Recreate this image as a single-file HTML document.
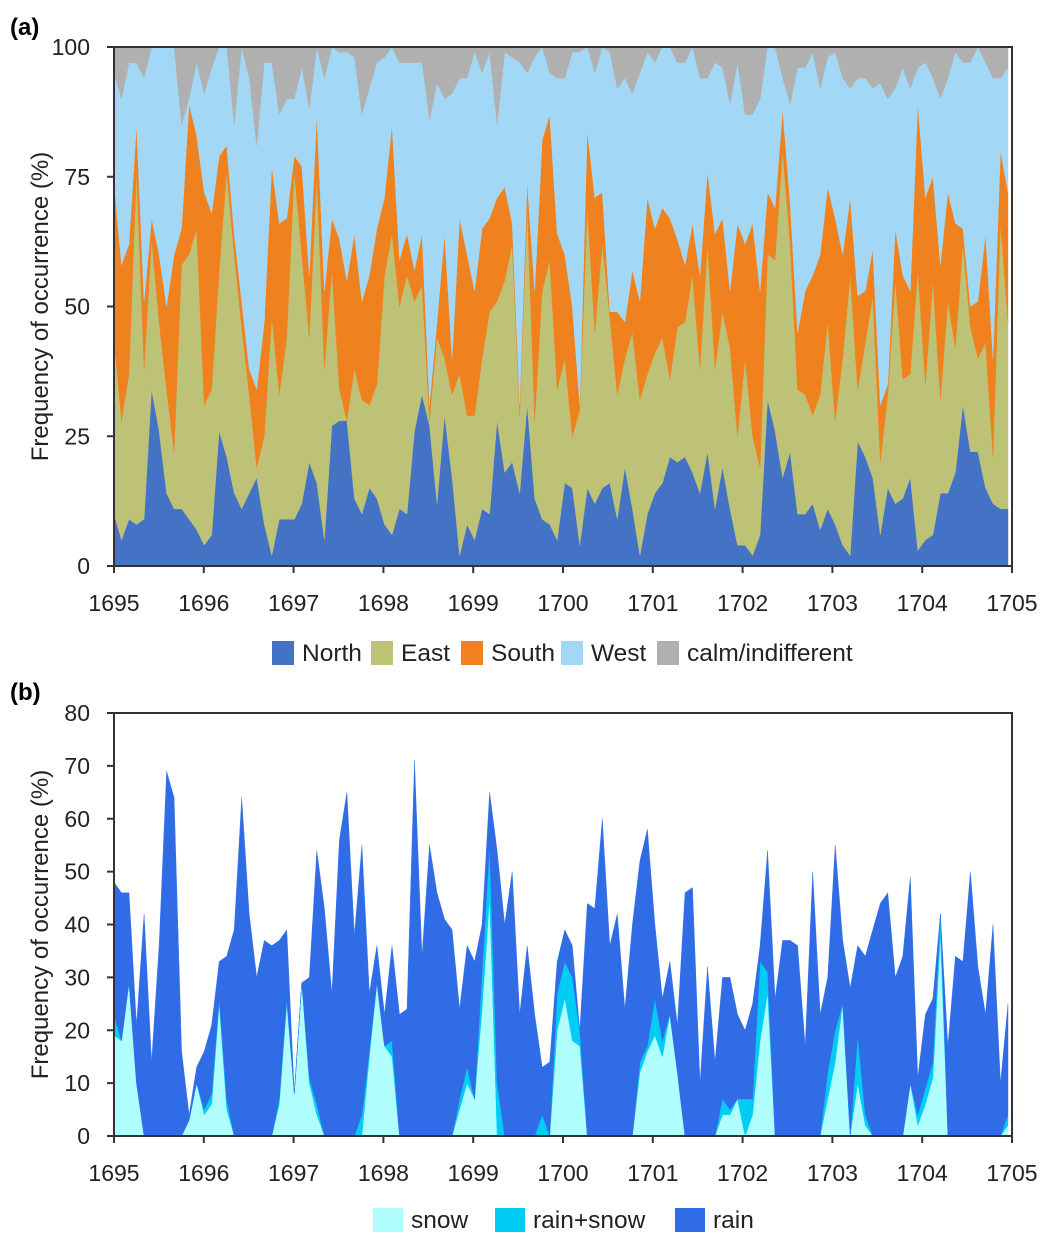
<!DOCTYPE html>
<html><head><meta charset="utf-8"><style>
html,body{margin:0;padding:0;background:#fff;}
svg{display:block;font-family:"Liberation Sans",Arial,sans-serif;}
</style></head><body>
<svg id="chart" width="1054" height="1248" viewBox="0 0 1054 1248" xmlns="http://www.w3.org/2000/svg">
<text x="10" y="35" font-size="24" font-weight="bold">(a)</text>
<text x="10" y="700" font-size="24" font-weight="bold">(b)</text>
<g id="pa"></g>
<g id="pb"></g>
</svg>
<script>
const years=[1695,1696,1697,1698,1699,1700,1701,1702,1703,1704,1705];
const windTicks=[0,25,50,75,100];
const precipTicks=[0,10,20,30,40,50,60,70,80];
const north=[10,5,9,8,9,34,26,14,11,11,9,7,4,6,26,21,14,11,14,17,8,2,9,9,9,12,20,16,5,27,28,28,13,10,15,13,8,6,11,10,26,33,27,12,29,17,2,8,5,11,10,28,18,20,14,31,13,9,8,5,16,15,4,15,12,15,16,9,19,11,2,10,14,16,21,20,21,18,14,22,11,19,11,4,4,2,6,32,26,17,22,10,10,12,7,11,8,4,2,24,21,17,6,15,12,13,17,3,5,6,14,14,18,31,22,22,15,12,11,11];
const east=[34,23,28,68,29,29,21,20,11,47,51,58,27,28,31,55,46,35,19,2,17,46,24,35,67,48,24,59,33,30,6,0,25,22,16,22,48,58,39,46,25,21,1,32,11,16,35,21,24,29,39,23,37,42,15,38,15,44,51,29,24,10,26,54,33,47,32,24,21,34,30,27,27,28,15,26,26,38,24,40,27,30,31,21,36,23,13,28,33,63,40,24,23,17,26,36,20,36,54,10,22,35,14,18,43,23,20,54,30,49,18,37,24,31,24,18,28,9,55,36];
const south=[30,30,25,9,13,4,13,16,38,7,29,18,41,34,22,5,4,5,5,15,22,29,33,23,3,17,12,12,15,10,29,27,26,19,25,30,15,21,9,8,6,10,3,3,24,7,30,31,24,25,18,20,18,4,2,5,25,29,28,30,20,25,1,15,26,10,1,16,7,12,19,34,24,25,31,17,11,10,18,14,26,18,11,41,22,41,34,12,10,8,8,11,20,27,27,26,39,20,15,18,10,9,11,2,10,20,16,32,36,20,26,21,24,3,4,11,21,19,14,25];
const west=[21,32,35,12,43,33,40,50,40,20,1,14,19,28,21,19,21,49,56,47,50,20,21,23,11,19,32,13,41,33,36,44,34,36,36,32,27,15,38,33,40,33,55,46,26,51,27,34,46,30,32,14,26,32,66,21,45,18,8,30,34,49,68,16,24,28,50,43,47,34,44,28,32,31,33,34,39,34,38,18,33,29,36,31,25,21,37,28,31,6,19,51,43,43,32,25,32,34,21,42,41,31,62,55,27,40,39,7,26,19,32,22,33,32,47,49,33,54,14,24];
const calm=[5,10,3,3,6,0,0,0,0,15,10,3,9,4,0,0,15,0,6,19,3,3,13,10,10,4,12,0,6,0,1,1,2,13,8,3,2,0,3,3,3,3,14,7,10,9,6,6,1,5,1,15,1,2,3,5,2,0,5,6,6,1,1,0,5,0,1,8,6,9,5,1,3,0,0,3,3,0,6,6,3,4,11,3,13,13,10,0,0,6,11,4,4,1,8,2,1,6,8,6,6,8,7,10,8,4,8,4,3,6,10,6,1,3,3,0,3,6,6,4];
const snow=[19,18,29,10,0,0,0,0,0,0,3,10,4,6,25,5,0,0,0,0,0,0,6,25,8,29,10,4,0,0,0,0,0,0,15,29,17,15,0,0,0,0,0,0,0,0,5,10,7,24,45,0,0,0,0,0,0,0,0,20,26,18,17,0,0,0,0,0,0,0,12,16,19,15,23,12,0,0,0,0,0,4,4,7,0,4,18,27,0,0,0,0,0,0,0,7,14,25,0,10,2,0,0,0,0,0,10,2,6,11,38,0,0,0,0,0,0,0,0,2];
const rainSnow=[4,0,0,0,0,0,0,0,0,0,0,0,1,2,1,2,0,0,0,0,0,0,1,1,0,0,1,2,0,0,0,0,0,4,1,0,0,3,0,0,0,0,0,0,0,0,2,3,0,7,10,10,0,0,0,0,0,4,0,7,7,12,3,0,0,0,0,0,0,0,2,1,7,3,0,0,0,0,0,0,0,3,1,0,7,3,15,4,0,0,0,0,0,0,0,5,6,0,0,9,2,0,0,0,0,0,0,2,3,3,4,0,0,0,0,0,0,0,0,2];
const rain=[25,28,17,11,42,14,36,69,64,16,1,3,11,13,7,27,39,64,42,30,37,36,30,13,0,0,19,48,43,27,56,65,38,51,11,7,6,18,23,24,71,34,55,46,41,39,17,23,26,9,10,44,40,50,23,36,23,9,14,6,6,6,0,44,43,60,36,42,24,40,38,41,14,8,10,9,46,47,10,32,14,23,25,16,13,18,3,23,26,37,37,36,17,50,23,18,35,12,28,17,30,39,44,46,30,34,39,7,14,12,0,17,34,33,50,32,23,40,10,21];

const NS="http://www.w3.org/2000/svg";
const X0=114,X1=1012;
function xYear(y){return X0+(y-1695)*(X1-X0)/10;}
function xIdx(i,n){return X0+i*(1008-X0)/(n-1);}
function mk(tag,attrs,parent){const e=document.createElementNS(NS,tag);for(const k in attrs)e.setAttribute(k,attrs[k]);parent.appendChild(e);return e;}

function drawPanel(g,opt){
  const yS=v=>opt.yBot-(v-opt.yMin)*(opt.yBot-opt.yTop)/(opt.yMax-opt.yMin);
  const n=opt.series[0].length;
  let cum=new Array(n).fill(0);
  opt.series.forEach((s,si)=>{
    const up=cum.map((c,i)=>c+s[i]);
    let pts=[];
    for(let i=0;i<n;i++)pts.push(xIdx(i,n).toFixed(1)+","+yS(up[i]).toFixed(1));
    for(let i=n-1;i>=0;i--)pts.push(xIdx(i,n).toFixed(1)+","+yS(cum[i]).toFixed(1));
    const p=mk("polygon",{points:pts.join(" "),fill:opt.colors[si],stroke:opt.colors[si],"stroke-width":"0.4"},g);
    
    
    cum=up;
  });
  const box=mk("rect",{x:X0,y:opt.yTop,width:X1-X0,height:opt.yBot-opt.yTop,fill:"none",stroke:"#333","stroke-width":"2"},g);
  
  
  opt.yTicks.forEach(t=>{
    const y=yS(t);
    const l=mk("line",{x1:X0-7,x2:X0,y1:y,y2:y,stroke:"#333","stroke-width":"2"},g);
    
    
    const tx=mk("text",{x:X0-24,y:y+8,"font-size":"23","text-anchor":"end",fill:"#222"},g);
    tx.textContent=t;
    
    
  });
  years.forEach(yr=>{
    const x=xYear(yr);
    const l=mk("line",{x1:x,x2:x,y1:opt.yBot,y2:opt.yBot+7,stroke:"#333","stroke-width":"2"},g);
    
    
    const tx=mk("text",{x:x,y:opt.yBot+45,"font-size":"23","text-anchor":"middle",fill:"#222"},g);
    tx.textContent=yr;
    
    
  });
  const cy=(opt.yTop+opt.yBot)/2;
  const yt=mk("text",{x:0,y:0,"font-size":"24","text-anchor":"middle",fill:"#222",transform:"translate(48,"+cy+") rotate(-90)"},g);
  yt.textContent="Frequency of occurrence (%)";
  
  
  opt.legend.forEach((le,i)=>{
    const r=mk("rect",{x:le.x,y:opt.legY-12,width:opt.sw,height:24,fill:opt.colors[i]},g);
    
    
    const tx=mk("text",{x:le.x+opt.sw+8,y:opt.legY+8,"font-size":"24.5",fill:"#222"},g);
    tx.textContent=le.label;
    
    
  });
}

drawPanel(document.getElementById("pa"),{
  series:[north,east,south,west,calm],
  names:["north","east","south","west","calm"],
  colors:["#4472c4","#bdc277","#ef821e","#a2d8f5","#b0b0b0"],
  yTop:47,yBot:566,yMin:0,yMax:100,yTicks:windTicks,legY:653,sw:22,
  legend:[{x:272,label:"North"},{x:371,label:"East"},{x:461,label:"South"},{x:561,label:"West"},{x:657,label:"calm/indifferent"}]
});
drawPanel(document.getElementById("pb"),{
  series:[snow,rainSnow,rain],
  names:["snow","rain-snow","rain"],
  colors:["#b0fffe","#00ccf5","#306ce6"],
  yTop:713,yBot:1136,yMin:0,yMax:80,yTicks:precipTicks,legY:1220,sw:30,
  legend:[{x:373,label:"snow"},{x:495,label:"rain+snow"},{x:675,label:"rain"}]
});
</script>
</body></html>
